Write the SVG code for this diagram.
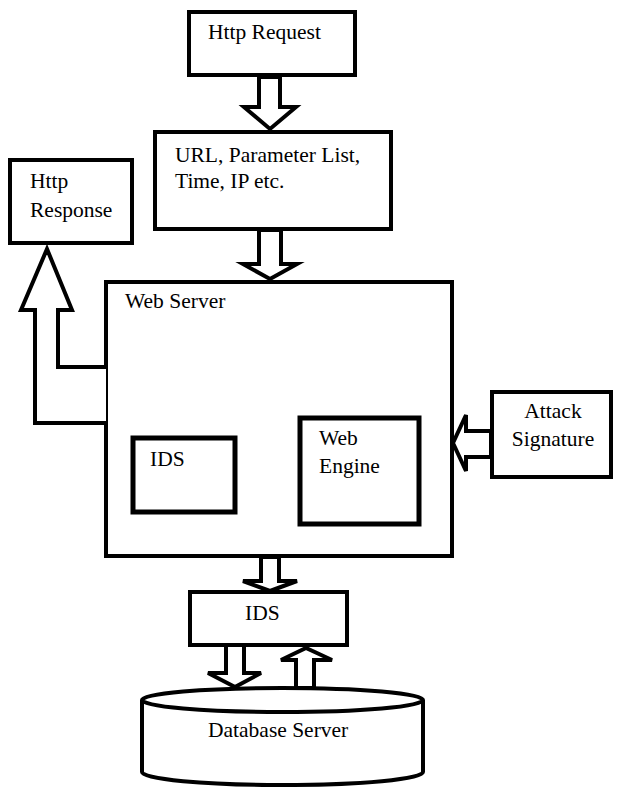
<svg xmlns="http://www.w3.org/2000/svg" width="617" height="787" viewBox="0 0 617 787">
  <style>
    .box { fill: #fff; stroke: #000; stroke-width: 4; }
    .inner { fill: #fff; stroke: #000; stroke-width: 5; }
    .arrow { fill: #fff; stroke: #000; stroke-width: 4; stroke-linejoin: miter; stroke-miterlimit: 4; }
    .label { font-family: "Liberation Serif", "Times New Roman", serif; font-size: 21.5px; fill: #000; }
  </style>

  <rect width="617" height="787" fill="#fff"/>

  <!-- Nodes -->
  <g id="http-request">
    <rect class="box" x="189" y="12" width="166" height="63"/>
    <text class="label" x="208" y="39">Http Request</text>
  </g>

  <g id="request-info">
    <rect class="box" x="155" y="132" width="236" height="97"/>
    <text class="label" x="175" y="162">URL, Parameter List,</text>
    <text class="label" x="175" y="188">Time, IP etc.</text>
  </g>

  <g id="http-response">
    <rect class="box" x="10" y="160" width="122" height="83"/>
    <text class="label" x="30" y="188">Http</text>
    <text class="label" x="30" y="217">Response</text>
  </g>

  <g id="web-server">
    <rect class="box" x="106" y="282" width="346" height="274"/>
    <text class="label" x="125" y="308">Web Server</text>
  </g>

  <g id="ids-inner">
    <rect class="inner" x="133" y="438" width="102" height="74"/>
    <text class="label" x="150" y="466">IDS</text>
  </g>

  <g id="web-engine">
    <rect class="inner" x="300" y="418" width="119" height="106"/>
    <text class="label" x="319" y="445">Web</text>
    <text class="label" x="319" y="473">Engine</text>
  </g>

  <g id="attack-signature">
    <rect class="box" x="492" y="392" width="119" height="85"/>
    <text class="label" x="553" y="418" text-anchor="middle">Attack</text>
    <text class="label" x="553" y="446" text-anchor="middle">Signature</text>
  </g>

  <g id="ids">
    <rect class="box" x="190" y="592" width="157" height="53"/>
    <text class="label" x="245" y="620">IDS</text>
  </g>

  <g id="database-server">
    <path class="box" d="M142,700 V772 A140,13 0 0 0 423,772 V700"/>
    <ellipse class="box" cx="282.500" cy="700" rx="140.500" ry="12"/>
    <text class="label" x="208" y="737">Database Server</text>
  </g>

  <!-- Connectors: hollow block arrows -->
  <g id="connectors">
    <polygon class="arrow" points="259,77 259,107 244,107 270,129 296,107 280,107 280,77"/>
    <polygon class="arrow" points="259,230 259,264 243,264 270,279 297,264 281,264 281,230"/>
    <polygon class="arrow" points="261,557 261,581 243,581 270,591 297,581 279,581 279,557"/>
    <polygon class="arrow" points="226,645 226,673 208,673 235,687 261,673 244,673 244,645"/>
    <polygon class="arrow" points="296,688 296,660 281,660 306,648 332,660 314,660 314,688"/>
    <polygon class="arrow" points="491,431 466,431 466,415 453,443 466,471 466,457 491,457"/>
    <path class="arrow" d="M106,367 H58 V310 H72 L47,249 L21,310 H35 V423 H106"/>
  </g>
</svg>
